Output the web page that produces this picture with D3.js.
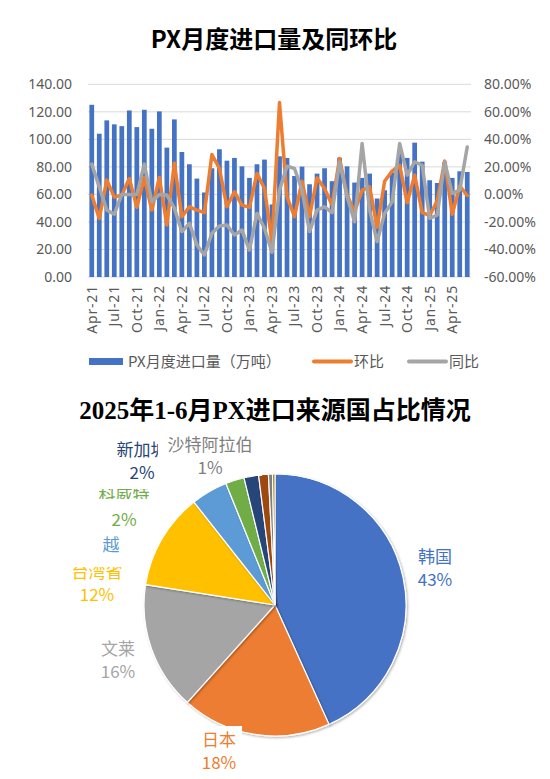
<!DOCTYPE html>
<html>
<head>
<meta charset="utf-8">
<script src="https://cdn.jsdelivr.net/npm/d3@7"></script>
<style>
  body { margin: 0; background: #fff; }
  svg { display: block; }
</style>
</head>
<body>
<div id="chart"></div>
<script>

// ---- 上图：PX月度进口量及同环比 ----
let months = d3.timeMonth.range(new Date(2021, 3, 1), new Date(2025, 6, 1)).map(d3.timeFormat('%b-%y'));

let tickLabels = ['Apr-21','Jul-21','Oct-21','Jan-22','Apr-22','Jul-22','Oct-22','Jan-23','Apr-23',
                  'Jul-23','Oct-23','Jan-24','Apr-24','Jul-24','Oct-24','Jan-25','Apr-25'];

// 万吨
let imports = [125.1,104.1,113.8,110.9,109.6,121.0,108.9,121.5,107.7,120.3,94.0,114.5,
               90.8,81.9,71.5,61.4,79.0,92.8,84.5,86.5,80.4,72.0,81.9,85.3,
               52.7,87.7,86.5,73.4,80.2,67.4,75.1,79.0,69.6,86.7,80.4,68.6,
               72.0,75.1,57.0,63.0,75.9,92.0,86.5,97.6,83.8,70.3,68.3,83.6,
               72.0,76.8,76.3];

// 环比 %
let mom = [-0.5,-17.5,10.4,-2.0,-0.5,11.6,-9.4,12.3,-11.4,12.3,-22.2,22.9,
           -16.2,-9.0,-11.4,-13.3,29.0,18.8,-9.0,1.9,-7.8,-9.4,15.2,4.3,
           -34.3,66.7,-1.7,-16.2,9.6,-16.2,12.0,4.3,-7.8,26.0,-0.5,-12.6,
           3.1,5.5,-24.0,9.5,17.0,21.2,-6.0,14.0,-13.2,-15.3,-4.7,24.2,
           -14.4,6.1,-0.8];

// 同比 %
let yoy = [22.0,5.5,-11.4,-14.3,0.0,0.0,0.0,22.0,-5.4,0.0,-0.5,-10.0,
           -27.0,-21.0,-36.7,-44.0,-28.3,-23.0,-22.2,-29.5,-25.9,-40.4,-13.8,-24.6,
           -42.0,3.1,20.5,18.8,3.1,-27.0,-11.4,-9.0,-13.3,23.6,-1.7,-19.9,
           37.0,-11.4,-34.3,-13.8,-5.4,37.0,14.0,23.6,21.2,-17.4,-15.0,23.6,
           0.7,3.1,34.5];

// ---- 下图：2025年1-6月PX进口来源国 ----
let pieNames  = ['韩国','日本','文莱','台湾省','越南','科威特','新加坡','未标注1','沙特阿拉伯','未标注2'];
let pieShares = [43.2, 18.4, 15.8, 11.9, 4.5, 2.3, 1.8, 1.2, 0.5, 0.3];
let pieColors = ['#4472C4','#ED7D31','#A5A5A5','#FFC000','#5B9BD5','#70AD47','#264478','#9E480E','#7F7F7F','#997300'];

let cjk = "'Noto Sans CJK SC', 'Noto Sans', sans-serif";
let txtGrey = '#595959';

let svg = d3.select('#chart')
  .append('svg')
    .attr('width', 550)
    .attr('height', 779)
;

let defs = svg.append('defs');
defs.append('filter')
    .attr('id', 'shadow')
    .attr('x', '-20%').attr('y', '-20%').attr('width', '140%').attr('height', '140%')
  .append('feDropShadow')
    .attr('dx', 1.2).attr('dy', 1.2)
    .attr('stdDeviation', 1.2)
    .attr('flood-color', '#000')
    .attr('flood-opacity', 0.3)
;

// title
svg.append('text')
    .attr('x', 274)
    .attr('y', 48)
    .attr('text-anchor', 'middle')
    .attr('font-family', cjk)
    .attr('font-weight', 'bold')
    .attr('font-size', 24)
    .text('PX月度进口量及同环比')
;

let x = d3.scaleBand()
    .domain(months)
    .range([88, 471])
    .paddingInner(0.37)
    .paddingOuter(0.185)
;
let yL = d3.scaleLinear().domain([0, 140]).range([277, 84.3]);
let yR = d3.scaleLinear().domain([-60, 80]).range([277, 84.3]);

// grid
svg.append('g').selectAll('line').data(d3.range(0, 141, 20)).enter()
  .append('line')
    .attr('x1', 88)
    .attr('x2', 471)
    .attr('y1', d => yL(d))
    .attr('y2', d => yL(d))
    .attr('stroke', '#D9D9D9')
    .attr('stroke-width', 1)
;

// axes
let axL = svg.append('g')
    .attr('transform', 'translate(88,0)')
    .call(d3.axisLeft(yL).tickValues(d3.range(0, 141, 20)).tickFormat(d => d.toFixed(2)).tickSize(0).tickPadding(16));
let axR = svg.append('g')
    .attr('transform', 'translate(471,0)')
    .call(d3.axisRight(yR).tickValues(d3.range(-60, 81, 20)).tickFormat(d => d.toFixed(2) + '%').tickSize(0).tickPadding(13));
let axB = svg.append('g')
    .attr('transform', 'translate(0,277)')
    .call(d3.axisBottom(x).tickValues(tickLabels).tickSize(0));

[axL, axR, axB].forEach(function(a) {
  a.select('.domain').remove();
  a.selectAll('text')
      .attr('fill', txtGrey)
      .attr('font-family', "'Noto Sans', sans-serif")
      .attr('font-size', 14);
});

axB.selectAll('text')
    .attr('transform', 'rotate(-90)')
    .attr('text-anchor', 'end')
    .attr('x', -8)
    .attr('y', 0)
    .attr('dy', '0.35em')
    .attr('letter-spacing', 0.8)
;

// bars
svg.append('g').selectAll('rect').data(imports).enter()
  .append('rect')
    .attr('x', (d, i) => x(months[i]))
    .attr('y', d => yL(d))
    .attr('width', x.bandwidth())
    .attr('height', d => yL(0) - yL(d))
    .attr('fill', '#4472C4')
;

let line = d3.line()
    .x((d, i) => x(months[i]) + x.bandwidth() / 2)
    .y(d => yR(d));

svg.append('path')
    .datum(mom)
    .attr('d', line)
    .attr('fill', 'none')
    .attr('stroke', '#ED7D31')
    .attr('stroke-width', 3.5)
    .attr('stroke-linejoin', 'round')
    .attr('stroke-linecap', 'round')
;
svg.append('path')
    .datum(yoy)
    .attr('d', line)
    .attr('fill', 'none')
    .attr('stroke', '#A5A5A5')
    .attr('stroke-width', 3.5)
    .attr('stroke-linejoin', 'round')
    .attr('stroke-linecap', 'round')
;

// legend
let legend = svg.append('g').attr('font-family', cjk).attr('font-size', 15).attr('fill', txtGrey);
legend.append('rect').attr('x', 89).attr('y', 358).attr('width', 34).attr('height', 7).attr('fill', '#4472C4');
legend.append('text').attr('x', 128).attr('y', 367).text('PX月度进口量（万吨）');
legend.append('line').attr('x1', 314).attr('x2', 351).attr('y1', 361.5).attr('y2', 361.5)
    .attr('stroke', '#ED7D31').attr('stroke-width', 4).attr('stroke-linecap', 'round');
legend.append('text').attr('x', 354).attr('y', 367).text('环比');
legend.append('line').attr('x1', 409).attr('x2', 446).attr('y1', 361.5).attr('y2', 361.5)
    .attr('stroke', '#A5A5A5').attr('stroke-width', 4).attr('stroke-linecap', 'round');
legend.append('text').attr('x', 449).attr('y', 367).text('同比');

// ---- pie ----
svg.append('text')
    .attr('x', 275)
    .attr('y', 419)
    .attr('text-anchor', 'middle')
    .attr('font-family', "'Liberation Serif', 'Noto Sans CJK SC', serif")
    .attr('font-weight', 'bold')
    .attr('font-size', 25)
    .text('2025年1-6月PX进口来源国占比情况')
;

let color = d3.scaleOrdinal().domain(pieNames).range(pieColors);
let total = d3.sum(pieShares);
let pieData = pieNames.map((n, i) => ({name: n, value: pieShares[i]}));
let arcs = d3.pie().sort(null).value(d => d.value)(pieData);
let arc = d3.arc().innerRadius(0).outerRadius(131);

let pieG = svg.append('g').attr('transform', 'translate(275,605)');
pieG.selectAll('path').data(arcs).enter()
  .append('path')
    .attr('d', arc)
    .attr('fill', d => color(d.data.name))
    .attr('stroke', '#fff')
    .attr('stroke-width', 1.2)
    .attr('filter', 'url(#shadow)')
;

// label spots, set by hand like the original
let labelPos = {
  '韩国':     {x: 435, y: 563, pct: true},
  '日本':     {x: 219, y: 746, pct: true},
  '文莱':     {x: 118, y: 655, pct: true},
  '台湾省':   {x: 97,  y: 578, pct: true, clip: [60, 567, 80, 14]},
  '越南':     {x: 111, y: 551, pct: false, only: '越'},
  '科威特':   {x: 124, y: 501, pct: true, clip: [90, 489, 70, 10], gap: 25},
  '新加坡':   {x: 142, y: 456, pct: true},
  '沙特阿拉伯': {x: 210, y: 451, pct: true}
};

// white label box under 日本 (it trims the pie edge)
svg.append('rect').attr('x', 200).attr('y', 726).attr('width', 42).attr('height', 50).attr('fill', '#fff');

let lab = svg.append('g').attr('font-family', cjk).attr('font-size', 17).attr('text-anchor', 'middle');

arcs.forEach(function(a, i) {
  let p = labelPos[a.data.name];
  if (!p) return;
  let c = color(a.data.name);
  let t = lab.append('text')
      .attr('x', p.x)
      .attr('y', p.y)
      .attr('fill', c)
      .text(p.only || a.data.name);
  if (p.clip) {
    let id = 'clip' + i;
    defs.append('clipPath').attr('id', id)
      .append('rect').attr('x', p.clip[0]).attr('y', p.clip[1]).attr('width', p.clip[2]).attr('height', p.clip[3]);
    t.attr('clip-path', 'url(#' + id + ')');
  }
  if (p.pct) {
    lab.append('text')
        .attr('x', p.x)
        .attr('y', p.y + (p.gap || 23))
        .attr('fill', c)
        .text(Math.round(a.data.value / total * 100) + '%');
  }
  if (a.data.name == '新加坡') {
    // 沙特阿拉伯 label box sits on top of 新加坡
    lab.append('rect').attr('x', 158).attr('y', 428).attr('width', 104).attr('height', 48).attr('fill', '#fff');
  }
});

</script>
</body>
</html>
